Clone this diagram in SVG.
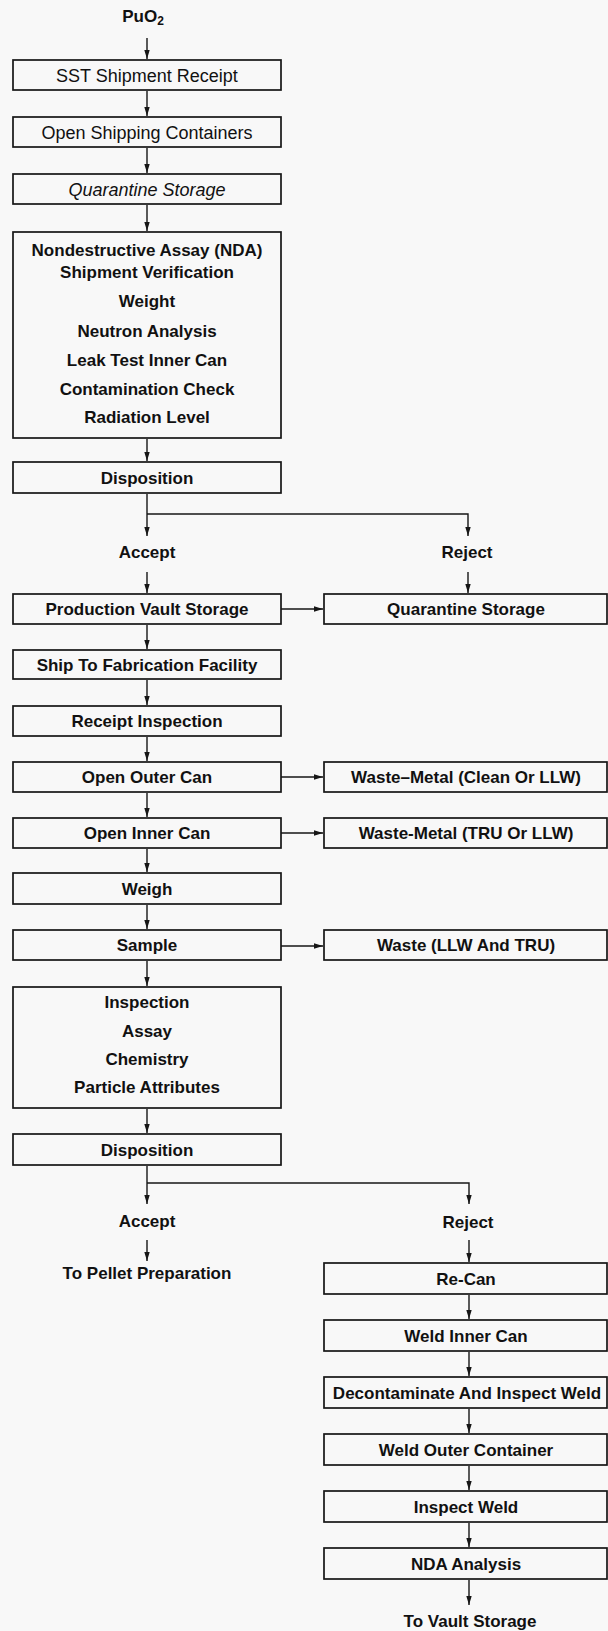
<svg xmlns="http://www.w3.org/2000/svg" width="608" height="1631" viewBox="0 0 608 1631">
<style>
.bx{fill:none;stroke:#161616;stroke-width:1.7}
.t{font-family:"Liberation Sans",Arial,Helvetica,sans-serif;font-size:17px;font-weight:bold;fill:#111;text-anchor:middle}
.r{font-weight:normal;font-size:18px}
.i{font-weight:normal;font-style:italic;font-size:18px}
.c{fill:none;stroke:#161616;stroke-width:1.4}
</style>
<defs>
<marker id="ah" viewBox="0 0 10 6" refX="10" refY="3" markerWidth="9" markerHeight="5.4" markerUnits="userSpaceOnUse" orient="auto">
<path d="M0,0 L10,3 L0,6 z" fill="#161616"/>
</marker>
</defs>
<rect x="0" y="0" width="608" height="1631" fill="#f8f8f8"/>

<g id="puo2"><text class="t" x="143" y="22" font-size="17">PuO<tspan font-size="12" dy="3">2</tspan></text></g>

<g id="n1"><rect class="bx" x="13" y="60" width="268" height="30"/><text class="t r" x="147" y="82">SST Shipment Receipt</text></g>
<g id="n2"><rect class="bx" x="13" y="117" width="268" height="30"/><text class="t r" x="147" y="139">Open Shipping Containers</text></g>
<g id="n3"><rect class="bx" x="13" y="174" width="268" height="30"/><text class="t i" x="147" y="196">Quarantine Storage</text></g>
<g id="n4"><rect class="bx" x="13" y="232" width="268" height="206"/>
<text class="t" x="147" y="256">Nondestructive Assay (NDA)</text>
<text class="t" x="147" y="278">Shipment Verification</text>
<text class="t" x="147" y="307">Weight</text>
<text class="t" x="147" y="337">Neutron Analysis</text>
<text class="t" x="147" y="366">Leak Test Inner Can</text>
<text class="t" x="147" y="395">Contamination Check</text>
<text class="t" x="147" y="423">Radiation Level</text></g>
<g id="n5"><rect class="bx" x="13" y="462" width="268" height="31"/><text class="t" x="147" y="484">Disposition</text></g>
<g id="accept1"><text class="t" x="147" y="558">Accept</text></g>
<g id="reject1"><text class="t" x="467" y="558">Reject</text></g>
<g id="n6"><rect class="bx" x="13" y="594" width="268" height="30"/><text class="t" x="147" y="615">Production Vault Storage</text></g>
<g id="r1"><rect class="bx" x="324" y="594" width="283" height="30"/><text class="t" x="466" y="615">Quarantine Storage</text></g>
<g id="n7"><rect class="bx" x="13" y="650" width="268" height="29"/><text class="t" x="147" y="671">Ship To Fabrication Facility</text></g>
<g id="n8"><rect class="bx" x="13" y="706" width="268" height="30"/><text class="t" x="147" y="727">Receipt Inspection</text></g>
<g id="n9"><rect class="bx" x="13" y="762" width="268" height="30"/><text class="t" x="147" y="783">Open Outer Can</text></g>
<g id="r2"><rect class="bx" x="324" y="762" width="283" height="30"/><text class="t" x="466" y="783">Waste–Metal (Clean Or LLW)</text></g>
<g id="n10"><rect class="bx" x="13" y="818" width="268" height="30"/><text class="t" x="147" y="839">Open Inner Can</text></g>
<g id="r3"><rect class="bx" x="324" y="818" width="283" height="30"/><text class="t" x="466" y="839">Waste-Metal (TRU Or LLW)</text></g>
<g id="n11"><rect class="bx" x="13" y="873" width="268" height="31"/><text class="t" x="147" y="895">Weigh</text></g>
<g id="n12"><rect class="bx" x="13" y="930" width="268" height="30"/><text class="t" x="147" y="951">Sample</text></g>
<g id="r4"><rect class="bx" x="324" y="930" width="283" height="30"/><text class="t" x="466" y="951">Waste (LLW And TRU)</text></g>
<g id="n13"><rect class="bx" x="13" y="987" width="268" height="121"/>
<text class="t" x="147" y="1008">Inspection</text>
<text class="t" x="147" y="1037">Assay</text>
<text class="t" x="147" y="1065">Chemistry</text>
<text class="t" x="147" y="1093">Particle Attributes</text></g>
<g id="n14"><rect class="bx" x="13" y="1134" width="268" height="31"/><text class="t" x="147" y="1156">Disposition</text></g>
<g id="accept2"><text class="t" x="147" y="1227">Accept</text></g>
<g id="reject2"><text class="t" x="468" y="1228">Reject</text></g>
<g id="pellet"><text class="t" x="147" y="1279">To Pellet Preparation</text></g>
<g id="r5"><rect class="bx" x="324" y="1263" width="283" height="31"/><text class="t" x="466" y="1285">Re-Can</text></g>
<g id="r6"><rect class="bx" x="324" y="1320" width="283" height="31"/><text class="t" x="466" y="1342">Weld Inner Can</text></g>
<g id="r7"><rect class="bx" x="324" y="1377" width="283" height="31"/><text class="t" x="467" y="1399">Decontaminate And Inspect Weld</text></g>
<g id="r8"><rect class="bx" x="324" y="1434" width="283" height="31"/><text class="t" x="466" y="1456">Weld Outer Container</text></g>
<g id="r9"><rect class="bx" x="324" y="1491" width="283" height="31"/><text class="t" x="466" y="1513">Inspect Weld</text></g>
<g id="r10"><rect class="bx" x="324" y="1548" width="283" height="31"/><text class="t" x="466" y="1570">NDA Analysis</text></g>
<g id="vault"><text class="t" x="470" y="1627">To Vault Storage</text></g>

<g id="connectors">
<path class="c" marker-end="url(#ah)" d="M147,38 V59"/>
<path class="c" marker-end="url(#ah)" d="M147,91 V116"/>
<path class="c" marker-end="url(#ah)" d="M147,148 V173"/>
<path class="c" marker-end="url(#ah)" d="M147,205 V231"/>
<path class="c" marker-end="url(#ah)" d="M147,439 V461"/>
<path class="c" marker-end="url(#ah)" d="M147,494 V536"/>
<path class="c" marker-end="url(#ah)" d="M147,514 H468 V536"/>
<path class="c" marker-end="url(#ah)" d="M147,572 V593"/>
<path class="c" marker-end="url(#ah)" d="M468,572 V593"/>
<path class="c" marker-end="url(#ah)" d="M281,609 H323"/>
<path class="c" marker-end="url(#ah)" d="M147,625 V649"/>
<path class="c" marker-end="url(#ah)" d="M147,680 V705"/>
<path class="c" marker-end="url(#ah)" d="M147,737 V761"/>
<path class="c" marker-end="url(#ah)" d="M281,777 H323"/>
<path class="c" marker-end="url(#ah)" d="M147,793 V817"/>
<path class="c" marker-end="url(#ah)" d="M281,833 H323"/>
<path class="c" marker-end="url(#ah)" d="M147,849 V872"/>
<path class="c" marker-end="url(#ah)" d="M147,905 V929"/>
<path class="c" marker-end="url(#ah)" d="M281,946 H323"/>
<path class="c" marker-end="url(#ah)" d="M147,961 V986"/>
<path class="c" marker-end="url(#ah)" d="M147,1109 V1133"/>
<path class="c" marker-end="url(#ah)" d="M147,1166 V1204"/>
<path class="c" marker-end="url(#ah)" d="M147,1183 H469 V1204"/>
<path class="c" marker-end="url(#ah)" d="M147,1240 V1261"/>
<path class="c" marker-end="url(#ah)" d="M469,1240 V1262"/>
<path class="c" marker-end="url(#ah)" d="M469,1295 V1319"/>
<path class="c" marker-end="url(#ah)" d="M469,1352 V1376"/>
<path class="c" marker-end="url(#ah)" d="M469,1409 V1433"/>
<path class="c" marker-end="url(#ah)" d="M469,1466 V1490"/>
<path class="c" marker-end="url(#ah)" d="M469,1523 V1547"/>
<path class="c" marker-end="url(#ah)" d="M469,1580 V1605"/>
</g>
</svg>
